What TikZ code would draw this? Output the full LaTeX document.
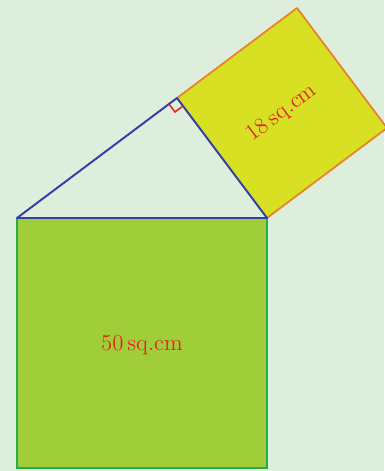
\documentclass[tikz,border=0pt]{standalone}
\usepackage{xcolor}
\usetikzlibrary{calc}
\definecolor{mint}{RGB}{222,238,220}
\definecolor{limefill}{RGB}{160,206,56}
\definecolor{limeedge}{RGB}{40,172,72}
\definecolor{lemonfill}{RGB}{216,224,36}
\definecolor{lemonedge}{RGB}{236,128,40}
\definecolor{legblue}{RGB}{52,62,168}
\definecolor{markred}{RGB}{226,40,36}
\tikzset{
  bigsq/.style={ fill=limefill, draw=limeedge, line width=1.2pt },
  smallsq/.style={ fill=lemonfill, draw=lemonedge, line width=1pt, line join=round },
  legs/.style={ draw=legblue, line width=1.1pt, line join=round },
  rightmark/.style={ draw=markred, line width=0.9pt },
  arealabel/.style={ text=markred, font=\fontsize{13}{15}\selectfont, inner sep=0pt }
}
\begin{document}
\begin{tikzpicture}
  % background, fixes the margins
  \fill[mint] (-0.34,-5.06) rectangle (7.34,4.36);
  \useasboundingbox (-0.34,-5.06) rectangle (7.34,4.36);
  % triangle corners
  \coordinate (A) at (0,0);
  \coordinate (B) at (5,0);
  \coordinate (C) at (3.2,2.4);
  % square on the hypotenuse
  \coordinate (A1) at (0,-5);
  \coordinate (B1) at (5,-5);
  \draw[bigsq] (A) -- (A1) -- (B1) -- (B);
  \node[arealabel] (big) at (2.5,-2.55) {50\,sq.cm};
  % square on the short leg
  \coordinate (C2) at ($(C)+(2.4,1.8)$);
  \coordinate (B2) at ($(B)+(2.4,1.8)$);
  \fill[lemonfill] (C) -- (C2) -- (B2) -- (B) -- cycle;
  \draw[smallsq] (C) -- (C2) -- (B2) -- (B);
  \node[arealabel, rotate=36.87] (small) at ($(C)!0.5!(B2)$) {18\,sq.cm};
  % triangle
  \draw[legs] (A) -- (B) -- (C) -- cycle;
  \draw[rightmark] ($(C)+(-0.16,-0.12)$) -- ($(C)+(-0.04,-0.28)$) -- ($(C)+(0.12,-0.16)$);
\end{tikzpicture}
\end{document}
